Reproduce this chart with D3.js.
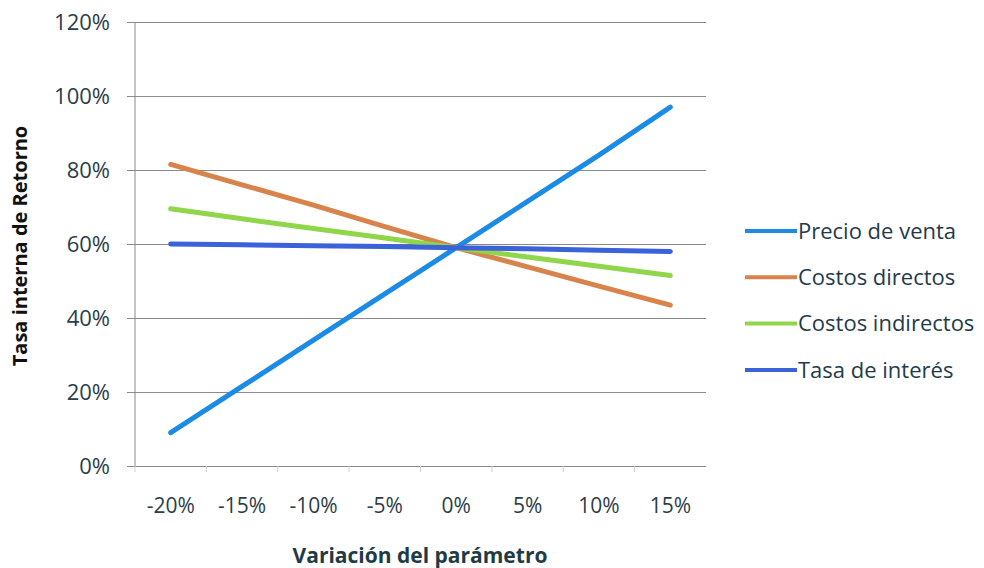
<!DOCTYPE html>
<html>
<head>
<meta charset="utf-8">
<script src="https://cdn.jsdelivr.net/npm/d3@7"></script>
<style>
  html, body { margin: 0; padding: 0; background: #fff; }
  svg { display: block; font-family: "Open Sans", Lato, sans-serif; }
</style>
</head>
<body>
<div id="chart"></div>
<script>
// Data
const categories = ['-20%', '-15%', '-10%', '-5%', '0%', '5%', '10%', '15%'];
const yTicks = [0, 20, 40, 60, 80, 100, 120];
const seriesNames = ['Precio de venta', 'Costos directos', 'Costos indirectos', 'Tasa de interés'];
const precioVenta = [9, 21.5, 34, 46.5, 59, 71.5, 84, 97];
const costosDirectos = [81.5, 76, 70.5, 64.7, 59, 53.8, 48.6, 43.5];
const costosIndirectos = [69.5, 66.8, 64.2, 61.6, 59, 56.5, 54, 51.5];
const tasaInteres = [60, 59.8, 59.5, 59.3, 59, 58.7, 58.3, 58];
const colors = ['#1b8be6', '#d9834c', '#8fd64a', '#3b62d8'];

const allSeries = [precioVenta, costosDirectos, costosIndirectos, tasaInteres];

const width = 984, height = 568;
const margin = { top: 22, right: 278, bottom: 102, left: 135 };
const innerW = width - margin.left - margin.right;
const innerH = height - margin.top - margin.bottom;

const svg = d3.select('#chart').append('svg')
  .attr('width', width)
  .attr('height', height);

const g = svg.append('g')
  .attr('transform', `translate(${margin.left},${margin.top})`);

const x = d3.scaleBand()
  .domain(categories)
  .range([0, innerW]);

const y = d3.scaleLinear()
  .domain([0, 120])
  .range([innerH, 0]);

// Gridlines + y ticks
const yAxis = d3.axisLeft(y)
  .tickValues(yTicks)
  .tickSize(-innerW)
  .tickSizeOuter(0)
  .tickPadding(25)
  .tickFormat(d => d + '%');

const yG = g.append('g').call(yAxis)
  .attr('font-family', null);
yG.select('.domain').remove();
yG.selectAll('.tick line')
  .attr('x1', -8)
  .attr('stroke', '#8a8a8a')
  .attr('stroke-width', 1);
yG.selectAll('text')
  .style('font-size', '22px')
  .style('fill', '#2c3d48');

// Vertical axis line
g.append('line')
  .attr('x1', 0).attr('x2', 0)
  .attr('y1', 0).attr('y2', innerH)
  .attr('stroke', '#8a8a8a');

// X axis labels
const xAxis = d3.axisBottom(x)
  .tickSize(0)
  .tickPadding(32);
const xG = g.append('g')
  .attr('transform', `translate(0,${innerH})`)
  .call(xAxis)
  .attr('font-family', null);
xG.select('.domain').remove();
xG.selectAll('text')
  .style('font-size', '21px')
  .style('fill', '#2c3d48');

// small tick marks at category boundaries
g.append('g').selectAll('line')
  .data(categories)
  .enter()
  .append('line')
  .attr('x1', d => x(d))
  .attr('x2', d => x(d))
  .attr('y1', innerH)
  .attr('y2', innerH + 6)
  .attr('stroke', '#d0d0d0');

// Lines
const line = d3.line()
  .x((d, i) => x(categories[i]) + x.bandwidth() / 2)
  .y(d => y(d));

g.selectAll('path.series')
  .data(allSeries)
  .enter()
  .append('path')
  .attr('class', 'series')
  .attr('d', line)
  .attr('fill', 'none')
  .attr('stroke', (d, i) => colors[i])
  .attr('stroke-width', 5)
  .attr('stroke-linecap', 'round');

// Legend
const legend = svg.append('g')
  .attr('transform', 'translate(745,231)');

const item = legend.selectAll('g')
  .data(seriesNames)
  .enter()
  .append('g')
  .attr('transform', (d, i) => `translate(0,${i * 46.3})`);

item.append('line')
  .attr('x1', 0).attr('x2', 52)
  .attr('stroke', (d, i) => colors[i])
  .attr('stroke-width', 4);

item.append('text')
  .attr('x', 53)
  .attr('dy', '0.35em')
  .style('font-size', '22px')
  .style('fill', '#1f3b4a')
  .text(d => d);

// Axis titles
svg.append('text')
  .attr('x', 420)
  .attr('y', 563)
  .attr('text-anchor', 'middle')
  .style('font-size', '21px')
  .style('font-weight', 'bold')
  .style('fill', '#1f3b44')
  .text('Variación del parámetro');

svg.append('text')
  .attr('transform', 'translate(27,246) rotate(-90)')
  .attr('text-anchor', 'middle')
  .style('font-size', '20px')
  .style('font-weight', 'bold')
  .style('fill', '#111')
  .text('Tasa interna de Retorno');
</script>
</body>
</html>
